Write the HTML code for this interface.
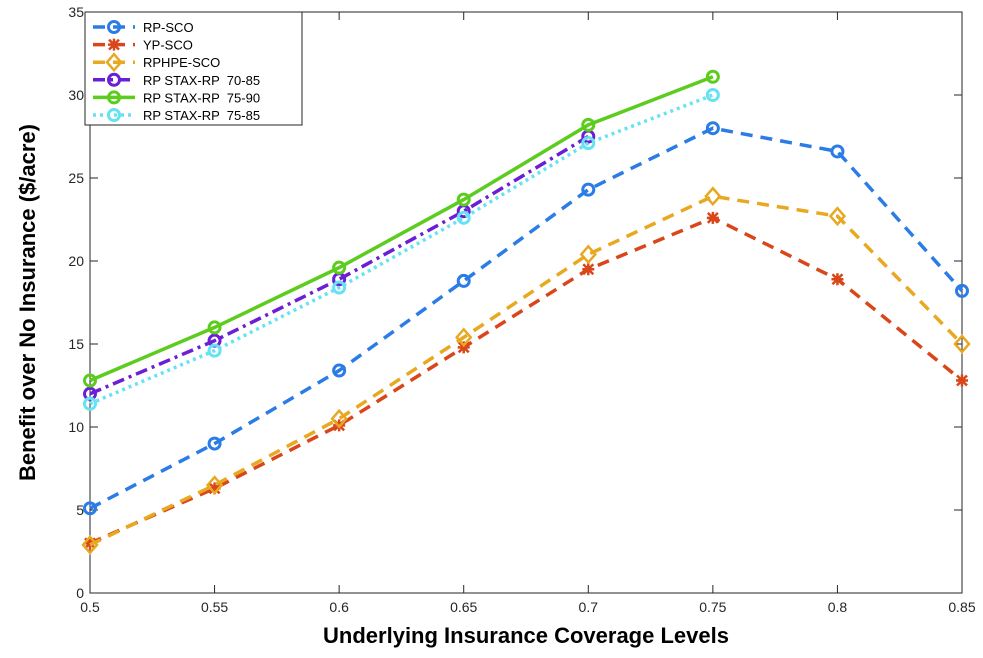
<!DOCTYPE html>
<html><head><meta charset="utf-8"><style>
body{margin:0;background:#fff}
svg{display:block;font-family:"Liberation Sans",Arial,sans-serif}
.pre{white-space:pre}
</style></head><body>
<svg id="chart" width="983" height="658"></svg>
<script>
const xCats=[0.5,0.55,0.6,0.65,0.7,0.75,0.8,0.85];
const xTicks=["0.5","0.55","0.6","0.65","0.7","0.75","0.8","0.85"];
const yTicks=[0,5,10,15,20,25,30,35];
const rpSco=[5.1,9.0,13.4,18.8,24.3,28.0,26.6,18.2];
const ypSco=[3.0,6.3,10.1,14.8,19.5,22.6,18.9,12.8];
const rphpeSco=[2.9,6.5,10.5,15.4,20.4,23.9,22.7,15.0];
const stax7085=[12.0,15.2,18.9,23.0,27.5];
const stax7590=[12.8,16.0,19.6,23.7,28.2,31.1];
const stax7585=[11.4,14.6,18.4,22.6,27.1,30.0];
const seriesNames=["RP-SCO","YP-SCO","RPHPE-SCO","RP STAX-RP  70-85","RP STAX-RP  75-90","RP STAX-RP  75-85"];

const NS="http://www.w3.org/2000/svg";
const svg=document.getElementById('chart');
const L=90,R=962,T=12,B=593;
const xs=v=>L+(v-0.5)/(0.35)*(R-L);
const ys=v=>B-v/35*(B-T);
function mk(tag,attrs,parent){const e=document.createElementNS(NS,tag);for(const k in attrs)e.setAttribute(k,attrs[k]);(parent||svg).appendChild(e);return e;}

const axes=mk('g',{});


mk('rect',{x:L,y:T,width:R-L,height:B-T,fill:'none',stroke:'#262626','stroke-width':1},axes);
xCats.forEach((v,i)=>{
  mk('line',{x1:xs(v),x2:xs(v),y1:B,y2:B-8,stroke:'#262626'},axes);
  mk('line',{x1:xs(v),x2:xs(v),y1:T,y2:T+8,stroke:'#262626'},axes);
  const t=mk('text',{x:xs(v),y:B+19,'text-anchor':'middle','font-size':14,fill:'#262626'},axes);
  t.textContent=xTicks[i];
  
  
});
yTicks.forEach(v=>{
  mk('line',{x1:L,x2:L+8,y1:ys(v),y2:ys(v),stroke:'#262626'},axes);
  mk('line',{x1:R,x2:R-8,y1:ys(v),y2:ys(v),stroke:'#262626'},axes);
  const t=mk('text',{x:L-6,y:ys(v)+5,'text-anchor':'end','font-size':14,fill:'#262626'},axes);
  t.textContent=v;
  
  
});
const xt=mk('text',{x:(L+R)/2,y:643,'text-anchor':'middle','font-size':22,'font-weight':'bold',fill:'#000'});
xt.textContent='Underlying Insurance Coverage Levels';


const yt=mk('text',{x:0,y:0,'text-anchor':'middle','font-size':22,'font-weight':'bold',fill:'#000',transform:`translate(35,${(T+B)/2}) rotate(-90)`});
yt.textContent='Benefit over No Insurance ($/acre)';



function marker(g,type,x,y,c){
  if(type==='o') mk('circle',{cx:x,cy:y,r:5.5,fill:'none',stroke:c,'stroke-width':3},g);
  else if(type==='d') mk('polygon',{points:`${x},${y-8} ${x+7},${y} ${x},${y+8} ${x-7},${y}`,fill:'none',stroke:c,'stroke-width':2.5},g);
  else { mk('path',{d:`M${x-5},${y-5}L${x+5},${y+5}M${x+5},${y-5}L${x-5},${y+5}M${x-6},${y}L${x+6},${y}M${x},${y-6}L${x},${y+6}`,stroke:c,'stroke-width':2.5},g); }
}
const defs=[
 {d:rpSco,c:'#2b7ce6',dash:'12,8',m:'o',name:'series-rp-sco'},
 {d:ypSco,c:'#d9461a',dash:'12,8',m:'*',name:'series-yp-sco'},
 {d:rphpeSco,c:'#e8a820',dash:'12,8',m:'d',name:'series-rphpe-sco'},
 {d:stax7085,c:'#6a1fd6',dash:'12,5,3,5',m:'o',name:'series-stax-70-85'},
 {d:stax7590,c:'#5ccc1e',dash:'',m:'o',name:'series-stax-75-90'},
 {d:stax7585,c:'#66e2f2',dash:'3,4',m:'o',name:'series-stax-75-85'}
];
defs.forEach(s=>{
  const g=mk('g',{});
  
  
  const pts=s.d.map((v,i)=>xs(xCats[i])+','+ys(v)).join(' ');
  mk('polyline',{points:pts,fill:'none',stroke:s.c,'stroke-width':3.5,'stroke-dasharray':s.dash},g);
  s.d.forEach((v,i)=>marker(g,s.m,xs(xCats[i]),ys(v),s.c));
});
const lg=mk('g',{});


mk('rect',{x:85,y:12,width:217,height:113,fill:'#fff',stroke:'#262626'},lg);
defs.forEach((s,i)=>{
  const y=27+i*17.6;
  const e=mk('g',{},lg);
  
  
  mk('line',{x1:93,x2:135,y1:y,y2:y,stroke:s.c,'stroke-width':3.5,'stroke-dasharray':s.dash},e);
  marker(e,s.m,114,y,s.c);
  const t=mk('text',{x:143,y:y+5,'font-size':13,fill:'#000','class':'pre'},e);
  t.textContent=seriesNames[i];
});
</script>
</body></html>
